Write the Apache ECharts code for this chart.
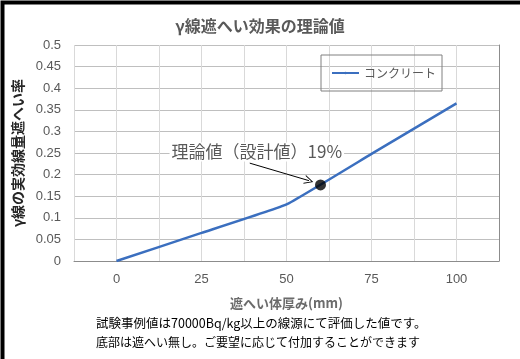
<!DOCTYPE html>
<html>
<head>
<meta charset="utf-8">
<script src="https://cdn.jsdelivr.net/npm/echarts@6/dist/echarts.min.js"></script>
<style>html,body{margin:0;padding:0;background:#fff}#c{width:520px;height:359px}</style>
</head>
<body>
<div id="c"></div>
<script>
const thickness = [0, 25, 50, 75, 100];
const shielding = [0, 0.065, 0.131, 0.248, 0.365];
const designPoint = [60, 0.176];
const xTicks = [0, 25, 50, 75, 100];
const seriesName = 'コンクリート';
const titleText = 'γ線遮へい効果の理論値';
const xName = '遮へい体厚み(mm)';
const yName = 'γ線の実効線量遮へい率';
const noteText = '理論値（設計値）19%';
const noteAnchor = [15.6, 0.2525];
const arrowFrom = [39.2, 0.2265];
const arrowTo = [56.6, 0.186];
const footLines = ['試験事例値は70000Bq/kg以上の線源にて評価した値です。', '底部は遮へい無し。ご要望に応じて付加することができます'];

const JP = '"Noto Sans CJK JP", sans-serif';
const NUM = '"Liberation Sans", "Noto Sans CJK JP", sans-serif';
const chart = echarts.init(document.getElementById('c'), null, {renderer: 'canvas'});
chart.setOption({
  animation: false,
  title: {
    text: titleText, left: 'center', top: 13,
    textStyle: {fontFamily: JP, fontSize: 16, fontWeight: 'bold', color: '#595959'}
  },
  legend: {
    data: [seriesName], left: 321, top: 55,
    borderColor: '#808080', borderWidth: 1, borderRadius: 0,
    padding: [12, 6, 12, 10], itemWidth: 27, itemHeight: 3, itemGap: 4,
    textStyle: {fontFamily: JP, fontSize: 12, color: '#595959'}
  },
  grid: {left: 74, right: 21, top: 45, bottom: 98, containLabel: false},
  xAxis: {
    type: 'value', min: -12.5, max: 112.5, interval: 12.5,
    name: xName, nameLocation: 'middle', nameGap: 36,
    nameTextStyle: {fontFamily: JP, fontSize: 13, fontWeight: 'bold', color: '#6b6b6b'},
    axisLine: {show: true, lineStyle: {color: '#8c8c8c', width: 1}},
    axisTick: {show: false},
    axisLabel: {
      fontFamily: NUM, fontSize: 13, color: '#595959', margin: 12,
      showMinLabel: true, showMaxLabel: true,
      formatter: v => xTicks.indexOf(v) >= 0 ? String(v) : ''
    },
    splitLine: {show: true, lineStyle: {color: '#d9d9d9', width: 1}}
  },
  yAxis: [{
    type: 'value', min: 0, max: 0.5, interval: 0.05,
    name: yName, nameLocation: 'middle', nameGap: 44, nameRotate: 90,
    nameTextStyle: {fontFamily: JP, fontSize: 14, fontWeight: 'bold', color: '#262626'},
    axisLine: {show: false}, axisTick: {show: false},
    axisLabel: {fontFamily: NUM, fontSize: 13, color: '#595959', margin: 13,
      formatter: v => String(Math.round(v * 100) / 100)},
    splitLine: {show: true, lineStyle: {color: '#bfbfbf', width: 1}}
  }, {
    type: 'value', min: 0, max: 0.5, position: 'right',
    axisLine: {show: true, lineStyle: {color: '#8c8c8c', width: 1}},
    axisTick: {show: false}, axisLabel: {show: false}, splitLine: {show: false}
  }],
  series: [{
    name: seriesName, type: 'line', symbol: 'none', smooth: 0.1,
    data: thickness.map((x, i) => [x, shielding[i]]),
    lineStyle: {color: '#3b6fbf', width: 2.5},
    itemStyle: {color: '#3b6fbf'},
    markLine: {
      silent: true, symbol: ['none', 'path://M0,0 L5,10 L4,10 L0,2 L-4,10 L-5,10 Z'], symbolSize: [9, 9],
      label: {show: false},
      lineStyle: {color: '#000', width: 1, type: 'solid'},
      data: [[{coord: arrowFrom}, {coord: arrowTo}]]
    },
    markPoint: {
      silent: true, symbol: 'circle', symbolSize: 0,
      label: {
        show: true, position: 'right', distance: 0, formatter: noteText,
        fontFamily: JP, fontSize: 17, color: '#595959',
        backgroundColor: '#fff', padding: [1, 2]
      },
      data: [{coord: noteAnchor}]
    }
  }, {
    name: 'design', type: 'scatter', symbol: 'circle', symbolSize: 11,
    data: [designPoint], itemStyle: {color: '#000'}, z: 5
  }],
  graphic: [
    {type: 'text', left: 96, top: 317, style: {text: footLines[0], font: '12.5px "Noto Sans CJK JP"', fill: '#000'}},
    {type: 'text', left: 96, top: 336, style: {text: footLines[1], font: '12px "Noto Sans CJK JP"', fill: '#000'}},
    {type: 'rect', left: 0, top: 0, shape: {x: 0, y: 0, width: 520, height: 359}, style: {fill: 'none', stroke: '#000', lineWidth: 4}, silent: true}
  ]
});
</script>
</body>
</html>
